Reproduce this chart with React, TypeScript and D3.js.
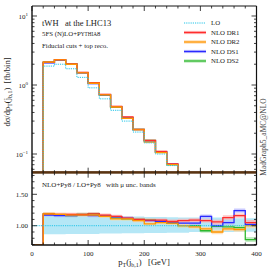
import * as d3 from 'd3';

// 20 GeV bins in pT(j_b,1)
const binEdges = [0, 20, 40, 60, 80, 100, 120, 140, 160, 180, 200, 220, 240, 260, 280, 300, 320, 340, 360, 380, 400];

// dsigma/dpT [fb/bin]
const loXsec = [0, 1.88, 2.0, 1.72, 1.29, 0.91, 0.63, 0.43, 0.3, 0.208, 0.145, 0.1, 0.068, 0.046, 0.032, 0.022, 0.015, 0.01, 0.007, 0.005];
const dr1Xsec = [0, 2.15, 2.33, 2.02, 1.52, 1.08, 0.73, 0.49, 0.345, 0.228, 0.158, 0.109, 0.072, 0.05, 0.035, 0.024, 0.016, 0.0113, 0.0081, 0.0053];
const dr2Xsec = [0, 2.14, 2.31, 2.0, 1.5, 1.06, 0.72, 0.48, 0.33, 0.224, 0.149, 0.105, 0.07, 0.046, 0.031, 0.021, 0.0135, 0.0095, 0.0066, 0.005];
const ds1Xsec = [0, 2.1, 2.3, 2.0, 1.5, 1.05, 0.72, 0.485, 0.336, 0.226, 0.155, 0.107, 0.0715, 0.048, 0.033, 0.025, 0.015, 0.0105, 0.0087, 0.0051];
const ds2Xsec = [0, 2.14, 2.31, 2.02, 1.51, 1.07, 0.715, 0.48, 0.335, 0.228, 0.157, 0.106, 0.07, 0.046, 0.032, 0.02, 0.015, 0.0098, 0.0068, 0.0039];

// NLO / LO ratios
const dr1Ratio = [0, 1.19, 1.18, 1.18, 1.18, 1.19, 1.17, 1.15, 1.12, 1.1, 1.09, 1.09, 1.07, 1.08, 1.09, 1.08, 1.06, 1.13, 1.16, 1.05];
const dr2Ratio = [0, 1.19, 1.18, 1.17, 1.17, 1.17, 1.15, 1.11, 1.11, 1.08, 1.03, 1.05, 1.04, 1.0, 0.98, 0.95, 0.9, 0.95, 0.94, 1.0];
const ds1Ratio = [0, 1.17, 1.16, 1.16, 1.17, 1.16, 1.16, 1.14, 1.12, 1.09, 1.08, 1.07, 1.05, 1.04, 1.04, 1.15, 1.0, 1.05, 1.24, 1.02];
const ds2Ratio = [0, 1.19, 1.17, 1.16, 1.18, 1.19, 1.15, 1.12, 1.11, 1.1, 1.09, 1.06, 1.04, 1.0, 1.0, 0.92, 0.99, 0.98, 0.97, 0.78];

// relative NLO scale uncertainty per bin
const nloUnc = [0, 0.025, 0.025, 0.025, 0.025, 0.025, 0.025, 0.025, 0.025, 0.025, 0.025, 0.025, 0.03, 0.03, 0.03, 0.03, 0.035, 0.035, 0.035, 0.04];

// LO scale band, relative to LO
const loBandLow = [1, 0.865, 0.865, 0.87, 0.87, 0.87, 0.875, 0.875, 0.88, 0.88, 0.885, 0.885, 0.89, 0.89, 0.9, 0.9, 0.9, 0.9, 0.905, 0.905];
const loBandHigh = [1, 1.17, 1.17, 1.165, 1.16, 1.16, 1.155, 1.15, 1.15, 1.145, 1.14, 1.14, 1.135, 1.13, 1.13, 1.13, 1.13, 1.12, 1.12, 1.12];

const xTicks = [0, 100, 200, 300, 400];
const ratioTicks = [1.0, 1.5];

const nloSeries = [
  { name: 'NLO DS2', main: ds2Xsec, ratio: ds2Ratio, color: '#2db82d', band: '#b3e6b3' },
  { name: 'NLO DS1', main: ds1Xsec, ratio: ds1Ratio, color: '#2a2aff', band: '#b8b8ff' },
  { name: 'NLO DR1', main: dr1Xsec, ratio: dr1Ratio, color: '#ff2d2d', band: '#ffb0b0' },
  { name: 'NLO DR2', main: dr2Xsec, ratio: dr2Ratio, color: '#ff9500', band: '#ffd8a4' },
];
const legendItems = [
  { name: 'LO', color: '#22c4e8', band: null },
  { name: 'NLO DR1', color: '#ff2d2d', band: '#ffb0b0' },
  { name: 'NLO DR2', color: '#ff9500', band: '#ffd8a4' },
  { name: 'NLO DS1', color: '#2a2aff', band: '#b8b8ff' },
  { name: 'NLO DS2', color: '#2db82d', band: '#b3e6b3' },
];

export default function App() {
  const left = 32, right = 256.5;
  const top = 6, mid = 172.7, bottom = 245;

  const x = d3.scaleLinear().domain([0, 400]).range([left, right]);
  const yMain = d3.scaleLog().domain([0.0536, 13.96]).range([mid, top]).clamp(true);
  const yRat = d3.scaleLinear().domain([0.693, 1.844]).range([bottom, mid]).clamp(true);

  const step = (vals: number[], y: any) =>
    d3.line<number>()
      .x((d) => x(d))
      .y((d, i) => y(vals[Math.min(i, vals.length - 1)]))
      .curve(d3.curveStepAfter)(binEdges) || '';

  const band = (lo: (i: number) => number, hi: (i: number) => number, y: any) =>
    d3.area<number>()
      .defined((d, i) => i >= 1)
      .x((d) => x(d))
      .y0((d, i) => y(lo(Math.min(i, 19))))
      .y1((d, i) => y(hi(Math.min(i, 19))))
      .curve(d3.curveStepAfter)(binEdges) || '';

  // ticks
  const logMajor = [0.1, 1, 10];
  const logMinor: number[] = [];
  [-2, -1, 0, 1].forEach((e) => {
    for (let k = 2; k <= 9; k++) {
      const v = k * Math.pow(10, e);
      if (v > 0.0536 && v < 13.96) logMinor.push(v);
    }
  });
  const ratMinor = d3.range(0.7, 1.85, 0.1).filter((v) => Math.abs(v - 1) > 0.01 && Math.abs(v - 1.5) > 0.01);
  const xMinor = d3.range(0, 401, 20).filter((v) => v % 100 !== 0);

  const tickCol = '#111';
  const ticks: JSX.Element[] = [];
  const hTick = (y: number, len: number, key: string) => {
    ticks.push(<line key={key + 'l'} x1={left} x2={left + len} y1={y} y2={y} stroke={tickCol} strokeWidth={0.8} />);
    ticks.push(<line key={key + 'r'} x1={right} x2={right - len} y1={y} y2={y} stroke={tickCol} strokeWidth={0.8} />);
  };
  logMajor.forEach((v) => hTick(yMain(v), 5, 'lm' + v));
  logMinor.forEach((v) => hTick(yMain(v), 2.5, 'ln' + v));
  ratioTicks.forEach((v) => hTick(yRat(v), 5, 'rm' + v));
  ratMinor.forEach((v) => hTick(yRat(v), 2.5, 'rn' + v.toFixed(2)));
  const vTick = (xv: number, len: number, key: string) => {
    const px = x(xv);
    [[top, 1], [mid, -1], [mid, 1], [bottom, -1]].forEach(([y, s], j) => {
      ticks.push(<line key={key + j} x1={px} x2={px} y1={y} y2={y + s * len} stroke={tickCol} strokeWidth={0.8} />);
    });
  };
  xTicks.forEach((v) => vTick(v, 5, 'xm' + v));
  xMinor.forEach((v) => vTick(v, 2.5, 'xn' + v));

  const pre = { whiteSpace: 'pre' as const };

  return (
    <svg width={270} height={270} style={{ position: 'absolute', left: 0, top: 0, background: '#fff' }}
      fontFamily="'Liberation Serif', 'DejaVu Serif', serif">
      <defs>
        <clipPath id="clipMain"><rect x={left} y={top} width={right - left} height={mid - top} /></clipPath>
        <clipPath id="clipRat"><rect x={left} y={mid} width={right - left} height={bottom - mid} /></clipPath>
      </defs>

      {/* main panel */}
      <g clipPath="url(#clipMain)">
        {nloSeries.map((s) => (
          <path key={'mb' + s.name} d={band((i) => s.main[i] * (1 - nloUnc[i]), (i) => s.main[i] * (1 + nloUnc[i]), yMain)}
            fill={s.band} opacity={0.8} />
        ))}
        {nloSeries.map((s) => (
          <path key={'ml' + s.name} d={step(s.main, yMain)} fill="none" stroke={s.color} strokeWidth={1.3} />
        ))}
        <path d={step(loXsec, yMain)} fill="none" stroke="#22c4e8" strokeWidth={1} strokeDasharray="1.2 1" />
      </g>
      <rect x={left} y={mid - 1.6} width={right - left} height={2.6} fill="#5a3412" />

      {/* ratio panel */}
      <g clipPath="url(#clipRat)">
        <path d={band((i) => loBandLow[i], (i) => loBandHigh[i], yRat)} fill="#b5e7f6" />
        {nloSeries.map((s) => (
          <path key={'rb' + s.name} d={band((i) => s.ratio[i] - nloUnc[i], (i) => s.ratio[i] + nloUnc[i], yRat)}
            fill={s.band} opacity={0.75} />
        ))}
        {nloSeries.map((s) => (
          <path key={'rl' + s.name} d={step(s.ratio, yRat)} fill="none" stroke={s.color} strokeWidth={1.3} />
        ))}
        <line x1={left} x2={right} y1={yRat(1)} y2={yRat(1)} stroke="#22c4e8" strokeWidth={1} strokeDasharray="1.2 1" />
      </g>

      {/* frame */}
      <line x1={left} x2={right} y1={top} y2={top} stroke="#8a8a8a" strokeWidth={2} />
      <line x1={left} x2={left} y1={top} y2={bottom} stroke="#111" strokeWidth={1.4} />
      <line x1={right} x2={right} y1={top} y2={bottom} stroke="#111" strokeWidth={1.2} />
      <line x1={left} x2={right} y1={bottom} y2={bottom} stroke="#111" strokeWidth={1.4} />
      {ticks}

      {/* y tick labels */}
      <g fontSize={7} fill="#222" textAnchor="end">
        <text x={28} y={yMain(10) + 3}>10<tspan dy={-3} fontSize={5}>1</tspan></text>
        <text x={28} y={yMain(1) + 3}>10<tspan dy={-3} fontSize={5}>0</tspan></text>
        <text x={28} y={yMain(0.1) + 3}>10<tspan dy={-3} fontSize={5}>−1</tspan></text>
        {ratioTicks.map((v) => (
          <text key={'rt' + v} x={28} y={yRat(v) + 2.5}>{v.toFixed(2)}</text>
        ))}
      </g>
      <g fontSize={7} fill="#222" textAnchor="middle">
        {xTicks.map((v) => (
          <text key={'xt' + v} x={x(v)} y={255.5}>{v}</text>
        ))}
      </g>

      {/* axis titles */}
      <text x={144} y={265} fontSize={8.5} textAnchor="middle" fill="#222" style={pre}>
        p<tspan fontSize={6} dy={1.5}>T</tspan><tspan dy={-1.5}>(j</tspan><tspan fontSize={6} dy={1.5}>b,1</tspan><tspan dy={-1.5}>{')   [GeV]'}</tspan>
      </text>
      <text transform="translate(10,92) rotate(-90)" fontSize={8.5} textAnchor="middle" fill="#222" style={pre}>
        dσ/dp<tspan fontSize={6} dy={1.5}>T</tspan><tspan dy={-1.5}>(j</tspan><tspan fontSize={6} dy={1.5}>b,1</tspan><tspan dy={-1.5}>{')  [fb/bin]'}</tspan>
      </text>
      <text transform="translate(266,137) rotate(-90)" fontSize={7.5} textAnchor="middle" fill="#444">MadGraph5_aMC@NLO</text>

      {/* annotations */}
      <text x={42} y={25.5} fontSize={8.5} fill="#222" style={pre}>{'tWH   at the LHC13'}</text>
      <text x={42} y={36} fontSize={6.8} fill="#222">5FS (N)LO+P<tspan fontSize={5.2}>YTHIA</tspan>8</text>
      <text x={42} y={48} fontSize={6.8} fill="#222">Fiducial cuts + top reco.</text>
      <text x={42} y={186.5} fontSize={7} fill="#222" style={pre}>{'NLO+Py8 / LO+Py8   with μ unc. bands'}</text>

      {/* legend */}
      {legendItems.map((it, i) => {
        const ly = 23 + i * 9.5;
        return (
          <g key={'lg' + it.name}>
            {it.band && <rect x={184} y={ly - 1.6} width={22} height={3.2} fill={it.band} />}
            <line x1={184} x2={206} y1={ly} y2={ly} stroke={it.color}
              strokeWidth={it.band ? 1.2 : 1} strokeDasharray={it.band ? undefined : '1.2 1'} />
            <text x={211} y={ly + 2.3} fontSize={6.8} fill="#222">{it.name}</text>
          </g>
        );
      })}
    </svg>
  );
}
